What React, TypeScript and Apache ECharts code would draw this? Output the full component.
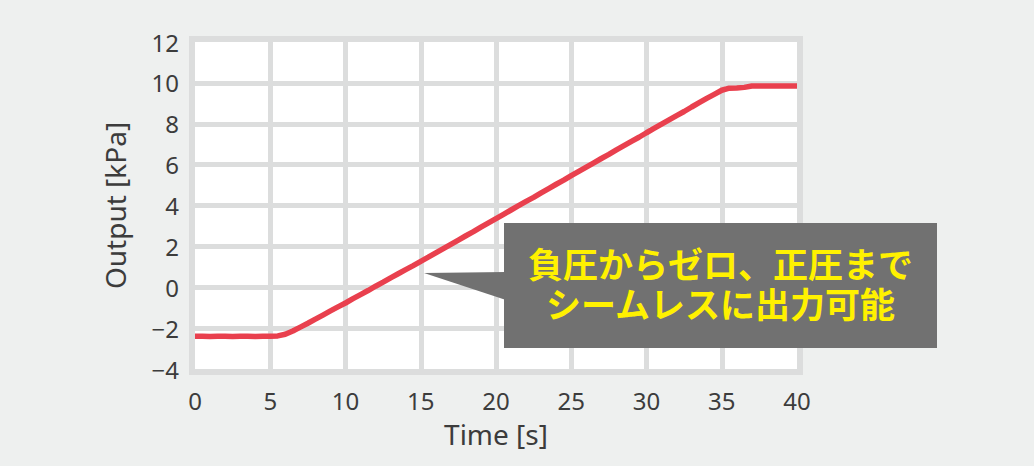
import React, { useEffect, useRef } from 'react';
import * as echarts from 'echarts';

// 時間 [s]
const TIME = [
  0, 0.5, 1, 1.5, 2, 2.5, 3, 3.5, 4, 4.5,
  5, 5.5, 6, 6.5, 7, 7.5, 8, 8.5, 9, 9.5,
  10, 10.5, 11, 11.5, 12, 12.5, 13, 13.5, 14, 14.5,
  15, 15.5, 16, 16.5, 17, 17.5, 18, 18.5, 19, 19.5,
  20, 20.5, 21, 21.5, 22, 22.5, 23, 23.5, 24, 24.5,
  25, 25.5, 26, 26.5, 27, 27.5, 28, 28.5, 29, 29.5,
  30, 30.5, 31, 31.5, 32, 32.5, 33, 33.5, 34, 34.5,
  35, 35.5, 36, 36.5, 37, 37.5, 38, 38.5, 39, 39.5,
  40,
];

// 出力 [kPa]
const OUTPUT = [
  -2.4, -2.4, -2.41, -2.4, -2.4, -2.41, -2.4, -2.4, -2.41, -2.4,
  -2.4, -2.38, -2.3, -2.14, -1.95, -1.76, -1.56, -1.36, -1.16, -0.96,
  -0.77, -0.56, -0.36, -0.16, 0.05, 0.25, 0.46, 0.66, 0.86, 1.06,
  1.27, 1.47, 1.68, 1.89, 2.1, 2.31, 2.52, 2.72, 2.94, 3.15,
  3.36, 3.57, 3.78, 3.99, 4.2, 4.4, 4.62, 4.83, 5.04, 5.24,
  5.46, 5.67, 5.88, 6.09, 6.3, 6.5, 6.72, 6.93, 7.14, 7.34,
  7.56, 7.77, 7.98, 8.19, 8.4, 8.6, 8.82, 9.03, 9.24, 9.44,
  9.64, 9.74, 9.75, 9.78, 9.85, 9.85, 9.85, 9.85, 9.85, 9.85,
  9.85,
];

const CALLOUT_LINES = ['負圧からゼロ、正圧まで', 'シームレスに出力可能'];

const GRID = { left: 195, top: 42, width: 602, height: 327 };
const BORDER = 6;
const GRID_COLOR = '#dcdddd';
const TEXT_COLOR = '#3c3c3c';
const BOX_COLOR = '#717171';
const FONT = '"Noto Sans", sans-serif';

const App: React.FC = () => {
  const chartRef = useRef<HTMLDivElement>(null);

  useEffect(() => {
    document.body.style.margin = '0';
    if (!chartRef.current) return;

    const chart = echarts.init(chartRef.current, undefined, { renderer: 'svg' });

    const option = {
      animation: false,
      backgroundColor: '#eef0ef',
      grid: {
        left: GRID.left,
        top: GRID.top,
        width: GRID.width,
        height: GRID.height,
        show: true,
        backgroundColor: '#ffffff',
        borderWidth: 0,
      },
      xAxis: {
        type: 'value',
        min: 0,
        max: 40,
        interval: 5,
        name: 'Time [s]',
        nameLocation: 'middle',
        nameGap: 51,
        nameTextStyle: { color: TEXT_COLOR, fontSize: 28, fontFamily: FONT },
        axisLine: { show: false },
        axisTick: { show: false },
        axisLabel: { color: TEXT_COLOR, fontSize: 24, fontFamily: FONT, margin: 19 },
        splitLine: {
          show: true,
          showMinLine: false,
          showMaxLine: false,
          lineStyle: { color: GRID_COLOR, width: 5 },
        },
      },
      yAxis: {
        type: 'value',
        min: -4,
        max: 12,
        interval: 2,
        name: 'Output [kPa]',
        nameLocation: 'middle',
        nameGap: 66,
        nameTextStyle: { color: TEXT_COLOR, fontSize: 28, fontFamily: FONT },
        axisLine: { show: false },
        axisTick: { show: false },
        axisLabel: {
          color: TEXT_COLOR,
          fontSize: 24,
          fontFamily: FONT,
          margin: 16,
          formatter: (v: number) => String(v).replace('-', '\u2212'),
        },
        splitLine: {
          show: true,
          showMinLine: false,
          showMaxLine: false,
          lineStyle: { color: GRID_COLOR, width: 5 },
        },
      },
      series: [
        {
          type: 'line',
          data: TIME.map((t, i) => [t, OUTPUT[i]]),
          symbol: 'none',
          lineStyle: { color: '#e9404e', width: 5.5 },
          z: 3,
        },
      ],
      graphic: [
        {
          type: 'rect',
          silent: true,
          z: 50,
          shape: {
            x: GRID.left - BORDER / 2,
            y: GRID.top - BORDER / 2,
            width: GRID.width + BORDER,
            height: GRID.height + BORDER,
          },
          style: { fill: 'none', stroke: GRID_COLOR, lineWidth: BORDER },
        },
        {
          type: 'polygon',
          z: 100,
          shape: { points: [[424, 273], [506, 272], [506, 300]] },
          style: { fill: BOX_COLOR },
        },
        {
          type: 'rect',
          z: 100,
          shape: { x: 504, y: 223, width: 433, height: 125 },
          style: { fill: BOX_COLOR },
        },
        ...CALLOUT_LINES.map((line, i) => ({
          type: 'text',
          z: 101,
          x: 720.5,
          y: 262 + i * 40,
          style: {
            text: line,
            fill: '#fff100',
            font: 'bold 35px "Noto Sans CJK JP", sans-serif',
            textAlign: 'center',
            textVerticalAlign: 'middle',
          },
        })),
      ],
    };

    chart.setOption(option);

    return () => {
      chart.dispose();
    };
  }, []);

  return <div ref={chartRef} style={{ width: '1034px', height: '466px' }} />;
};

export default App;
